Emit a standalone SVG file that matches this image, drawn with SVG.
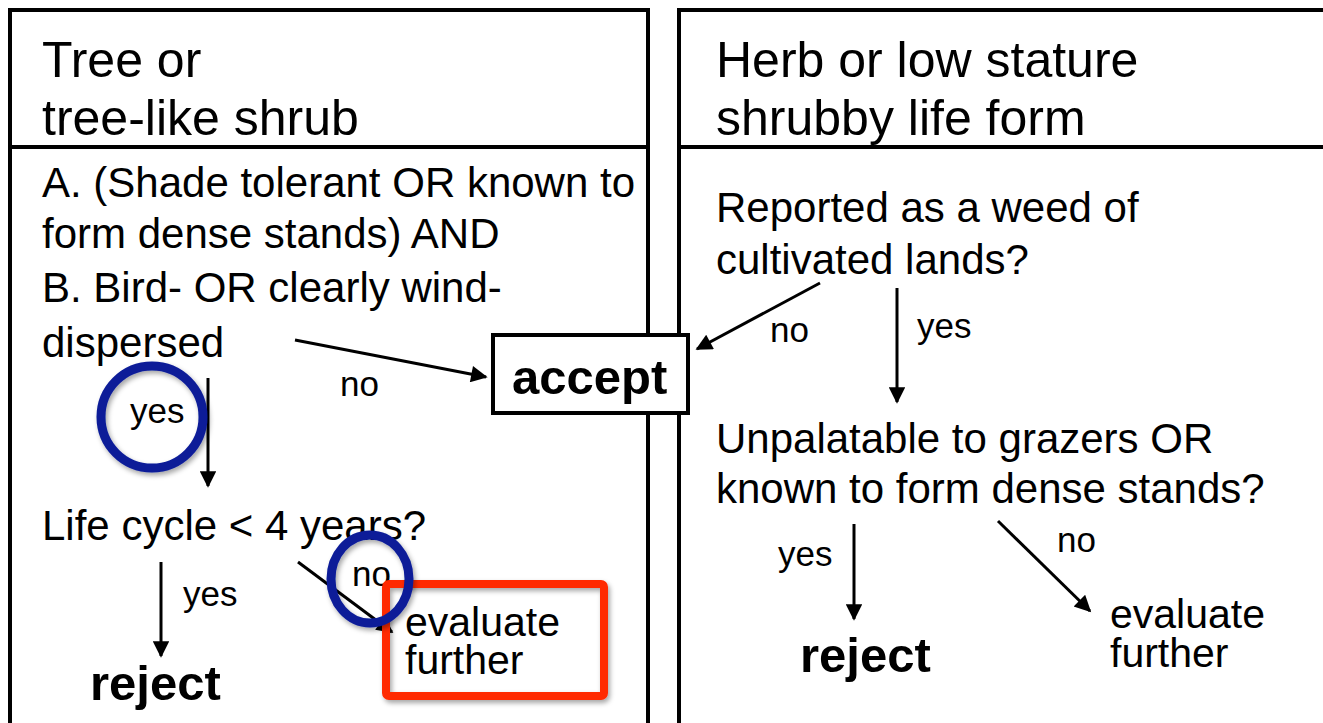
<svg xmlns="http://www.w3.org/2000/svg" width="1323" height="723" viewBox="0 0 1323 723">
<defs>
<style>
.panel{fill:none;stroke:#000;stroke-width:4}
.hd{font-family:"Liberation Sans",Arial,sans-serif;font-size:50px;fill:#000}
.tx{font-family:"Liberation Sans",Arial,sans-serif;font-size:42px;fill:#000}
.ev{font-family:"Liberation Sans",Arial,sans-serif;font-size:41px;fill:#000}
.lb{font-family:"Liberation Sans",Arial,sans-serif;font-size:35px;fill:#000}
.bd{font-family:"Liberation Sans",Arial,sans-serif;font-size:49px;font-weight:bold;fill:#000}
.ar{stroke:#000;stroke-width:3;fill:none;marker-end:url(#ah)}
.ring{fill:none;stroke:#0a1c98;stroke-width:9;filter:url(#sh)}
.hl{fill:none;stroke:#ff2a00;stroke-width:8;filter:url(#sh)}
</style>
<marker id="ah" viewBox="0 0 10 10" refX="9" refY="5" markerWidth="6.5" markerHeight="5.5" markerUnits="strokeWidth" orient="auto">
<path d="M0,0 L10,5 L0,10 z" fill="#000"/>
</marker>
<filter id="sh" x="-20%" y="-20%" width="140%" height="140%">
<feDropShadow dx="2" dy="3" stdDeviation="2.5" flood-color="#000" flood-opacity="0.35"/>
</filter>
</defs>
<rect width="1323" height="723" fill="#fff"/>

<g id="panel-left">
<rect class="panel" x="10" y="10" width="638" height="730"/>
<line class="panel" x1="10" y1="147" x2="648" y2="147"/>
<text class="hd" x="42" y="77">Tree or</text>
<text class="hd" x="42" y="135">tree-like shrub</text>
</g>

<g id="panel-right">
<rect class="panel" x="679" y="10" width="660" height="730"/>
<line class="panel" x1="679" y1="147" x2="1339" y2="147"/>
<text class="hd" x="716" y="77">Herb or low stature</text>
<text class="hd" x="716" y="135">shrubby life form</text>
</g>

<g id="q-tree">
<text class="tx" x="42" y="197">A. (Shade tolerant OR known to</text>
<text class="tx" x="42" y="248">form dense stands) AND</text>
<text class="tx" x="42" y="302">B. Bird- OR clearly wind-</text>
<text class="tx" x="42" y="357">dispersed</text>
</g>

<g id="q-life">
<text class="tx" x="42" y="540">Life cycle &lt; 4 years?</text>
</g>

<g id="reject-left">
<text class="bd" x="90" y="700">reject</text>
</g>

<g id="eval-left">
<text class="ev" x="405" y="636">evaluate</text>
<text class="ev" x="405" y="674">further</text>
</g>

<g id="accept">
<rect x="493" y="335" width="195" height="78" fill="#fff" stroke="#000" stroke-width="4"/>
<text class="bd" x="512" y="394">accept</text>
</g>

<g id="q-weed">
<text class="tx" x="716" y="222">Reported as a weed of</text>
<text class="tx" x="716" y="274">cultivated lands?</text>
</g>

<g id="q-graze">
<text class="tx" x="716" y="453">Unpalatable to grazers OR</text>
<text class="tx" x="716" y="503">known to form dense stands?</text>
</g>

<g id="reject-right">
<text class="bd" x="800" y="672">reject</text>
</g>

<g id="eval-right">
<text class="ev" x="1110" y="628">evaluate</text>
<text class="ev" x="1110" y="667">further</text>
</g>

<g id="connectors">
<line class="ar" x1="295" y1="340" x2="486" y2="377"/>
<line class="ar" x1="208" y1="378" x2="208" y2="486"/>
<line class="ar" x1="161" y1="562" x2="161" y2="656"/>
<line class="ar" x1="298" y1="562" x2="392" y2="632"/>
<line class="ar" x1="820" y1="283" x2="697" y2="349"/>
<line class="ar" x1="897" y1="288" x2="897" y2="402"/>
<line class="ar" x1="854" y1="524" x2="854" y2="619"/>
<line class="ar" x1="998" y1="521" x2="1090" y2="611"/>
<text class="lb" x="340" y="396">no</text>
<text class="lb" x="130" y="423">yes</text>
<text class="lb" x="183" y="606">yes</text>
<text class="lb" x="352" y="586">no</text>
<text class="lb" x="770" y="342">no</text>
<text class="lb" x="917" y="338">yes</text>
<text class="lb" x="778" y="566">yes</text>
<text class="lb" x="1057" y="552">no</text>
</g>

<g id="highlights">
<rect class="hl" x="386" y="584" width="218" height="112" rx="3"/>
<ellipse class="ring" cx="152" cy="417" rx="51" ry="51"/>
<ellipse class="ring" cx="370" cy="579" rx="39" ry="44"/>
</g>
</svg>
